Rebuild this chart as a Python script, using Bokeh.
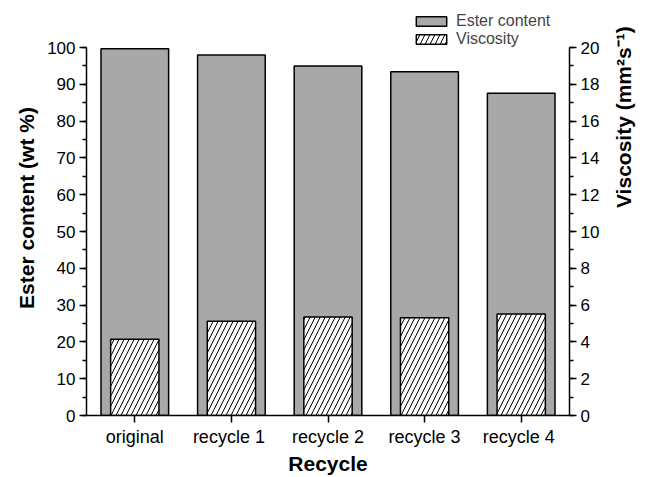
import math
from bokeh.plotting import figure
from bokeh.models import Range1d, LinearAxis, FixedTicker, Legend, LegendItem, ColumnDataSource
from bokeh.embed import file_html
from bokeh.resources import INLINE

categories = ["original", "recycle  1", "recycle 2", "recycle 3", "recycle  4"]
ester_content = [99.7, 98.0, 95.0, 93.4, 87.6]
viscosity = [4.15, 5.12, 5.35, 5.32, 5.52]
left_ticks = [0, 10, 20, 30, 40, 50, 60, 70, 80, 90, 100]
right_ticks = [0, 2, 4, 6, 8, 10, 12, 14, 16, 18, 20]

xs = list(range(len(categories)))
src = ColumnDataSource(dict(x=xs, ester=ester_content, visc=viscosity))

FONT = "Liberation Sans"

# frame extends above 100 to hold the legend; axes are bounded to 0-100 / 0-20
p = figure(width=649, height=477, output_backend="svg", toolbar_location=None,
           x_range=Range1d(-0.5, len(categories) - 0.5), y_range=Range1d(0, 112.8),
           min_border_left=86, min_border_right=78, min_border_top=0, min_border_bottom=60)
p.outline_line_color = None
p.grid.visible = False
p.extra_y_ranges = {"visc": Range1d(0, 22.56)}

r1 = p.vbar(x="x", top="ester", width=0.70, bottom=0, source=src,
            fill_color="#a8a8a8", line_color="black", line_width=1.5)
r2 = p.vbar(x="x", top="visc", width=0.5, bottom=0, source=src, y_range_name="visc",
            fill_color="white", line_color="black", line_width=1.5,
            hatch_pattern="right_diagonal_line", hatch_color="black", hatch_scale=10, hatch_weight=1)

xa = p.xaxis[0]
xa.ticker = FixedTicker(ticks=xs)
xa.major_label_overrides = {i: c for i, c in enumerate(categories)}
xa.minor_tick_line_color = None
xa.axis_label = "Recycle"

ya = p.yaxis[0]
ya.ticker = FixedTicker(ticks=left_ticks, minor_ticks=list(range(0, 101, 5)))
ya.axis_label = "Ester content (wt %)"
ya.bounds = (0, 100)

ra = LinearAxis(y_range_name="visc", axis_label="Viscosity (mm\u00b2s\u207b\u00b9)")
ra.ticker = FixedTicker(ticks=right_ticks, minor_ticks=list(range(0, 21)))
ra.bounds = (0, 20)
p.add_layout(ra, "right")

for ax in [xa, ya, ra]:
    ax.axis_line_width = 1.5
    ax.axis_line_color = "black"
    ax.major_tick_line_width = 1.5
    ax.minor_tick_line_width = 1.5
    ax.major_tick_out = 7
    ax.major_tick_in = 0
    ax.minor_tick_out = 4
    ax.minor_tick_in = 0
    ax.major_label_text_font = FONT
    ax.major_label_text_font_size = "17px"
    ax.major_label_text_color = "black"
    ax.axis_label_text_font = FONT
    ax.axis_label_text_font_size = "21px"
    ax.axis_label_text_font_style = "bold"
    ax.axis_label_text_color = "black"
    ax.major_label_standoff = 4
    ax.axis_label_standoff = 6

xa.major_label_text_font_size = "18px"
xa.axis_label_standoff = 2

try:
    ra.axis_label_orientation = math.pi / 2
    ra.axis_label_standoff = 21
except Exception:
    pass

legend = Legend(items=[LegendItem(label="Ester content", renderers=[r1]),
                       LegendItem(label="Viscosity", renderers=[r2])],
                location=(326, 367))
legend.border_line_color = None
legend.background_fill_alpha = 0
legend.padding = 0
legend.margin = 0
legend.spacing = 0
legend.glyph_width = 38
legend.glyph_height = 12
legend.label_standoff = 6
legend.label_text_font = FONT
legend.label_text_font_size = "16px"
legend.label_height = 18
p.add_layout(legend)

open("out.html", "w").write(file_html(p, INLINE))
